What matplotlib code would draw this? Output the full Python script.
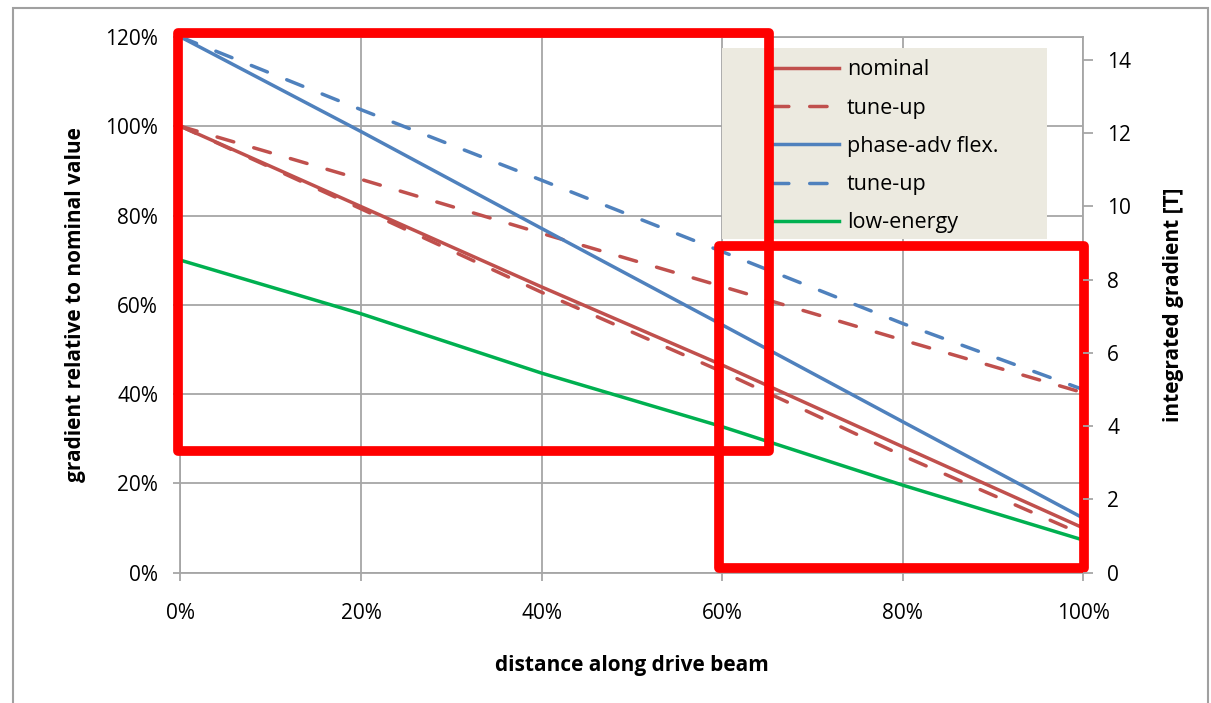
import numpy as np
import matplotlib
matplotlib.use('Agg')
import matplotlib.pyplot as plt
import matplotlib.patches as mpatches
from matplotlib.ticker import PercentFormatter

plt.rcParams['font.family'] = ['Open Sans', 'DejaVu Sans']

# ── data ──────────────────────────────────────────────────────────
distance = [0, 20, 40, 60, 80, 100]               # % along drive beam
nominal = [100, 82.0, 64.0, 46.5, 28.2, 10.0]
tuneup_red_hi = [100, 88.1, 76.0, 64.1, 52.1, 40.3]
tuneup_red_lo = [100, 81.5, 62.8, 45.0, 26.2, 8.5]
phase_adv = [120, 98.8, 77.1, 55.5, 33.8, 12.2]
tuneup_blue = [120, 103.7, 87.9, 71.9, 55.8, 41.0]
low_energy = [70, 58.0, 44.7, 32.7, 19.6, 7.3]

right_ticks = [0, 2, 4, 6, 8, 10, 12, 14]

RED, BLUE, GREEN = '#C0504D', '#4F81BD', '#00B050'
GRID = '#A6A6A6'

# ── figure ────────────────────────────────────────────────────────
fig = plt.figure(figsize=(12.11, 7.03), dpi=100)
ax = fig.add_axes([0.149, 0.1853, 0.7457, 0.7622])

# outer chart frame
fig.add_artist(mpatches.Rectangle((13 / 1211, -0.01), 1195 / 1211, 1 - 8 / 703 + 0.01,
                                  transform=fig.transFigure, fill=False,
                                  edgecolor='#A0A0A0', linewidth=1.5))

dash = dict(linestyle=(0, (5, 6)), dash_capstyle='round')
lw = 2.5
ax.plot(distance, nominal, color=RED, lw=lw, label='nominal')
ax.plot(distance, tuneup_red_hi, color=RED, lw=lw, label='tune-up', **dash)
ax.plot(distance, tuneup_red_lo, color=RED, lw=lw, label='_nolegend_', **dash)
ax.plot(distance, phase_adv, color=BLUE, lw=lw, label='phase-adv flex.')
ax.plot(distance, tuneup_blue, color=BLUE, lw=lw, label='tune-up', **dash)
ax.plot(distance, low_energy, color=GREEN, lw=lw, label='low-energy')

ax.set_xlim(0, 100)
ax.set_ylim(0, 120)
ax.set_xticks(np.arange(0, 101, 20))
ax.set_yticks(np.arange(0, 121, 20))
ax.xaxis.set_major_formatter(PercentFormatter(decimals=0))
ax.yaxis.set_major_formatter(PercentFormatter(decimals=0))
ax.grid(True, color=GRID, linewidth=1.3)
ax.set_axisbelow(True)
for s in ax.spines.values():
    s.set_color(GRID)
    s.set_linewidth(1.3)
ax.tick_params(axis='y', length=5, width=1.3, color=GRID, pad=11, labelsize=15)
ax.tick_params(axis='x', length=6, width=1.3, color=GRID, pad=16, labelsize=15)

ax.set_xlabel('distance along drive beam', fontsize=15, fontweight='bold', labelpad=22)
ax.set_ylabel('gradient relative to nominal value', fontsize=15, fontweight='bold', labelpad=14)

# secondary axis
ax2 = ax.twinx()
ax2.set_ylim(0, 14.62)
ax2.set_yticks(right_ticks)
for s in ax2.spines.values():
    s.set_visible(False)
ax2.tick_params(axis='y', length=7, width=1.3, color=GRID, pad=10, labelsize=15)
ax2.set_ylabel('integrated gradient [T]', fontsize=15, fontweight='bold', labelpad=23)

# legend with beige background
ax.add_patch(mpatches.Rectangle((0.600, 0.623), 0.360, 0.356, transform=ax.transAxes,
                                facecolor='#ECEAE0', edgecolor='none', zorder=4))
leg = ax.legend(loc='upper left', bbox_to_anchor=(0.6535, 0.958), frameon=False,
                fontsize=15.5, handlelength=3.2, handletextpad=0.35, labelspacing=0.8,
                borderpad=0, borderaxespad=0)
leg.set_zorder(5)

# highlight boxes
for (x0, y0, x1, y1) in [(-0.3, 27.3, 65.2, 120.9), (59.6, 1.0, 100.05, 73.1)]:
    ax.add_patch(mpatches.Rectangle((x0, y0), x1 - x0, y1 - y0, fill=False,
                                    edgecolor='#FF0000', linewidth=7,
                                    joinstyle='round', clip_on=False, zorder=6))

fig.savefig('out.png', dpi=100)
